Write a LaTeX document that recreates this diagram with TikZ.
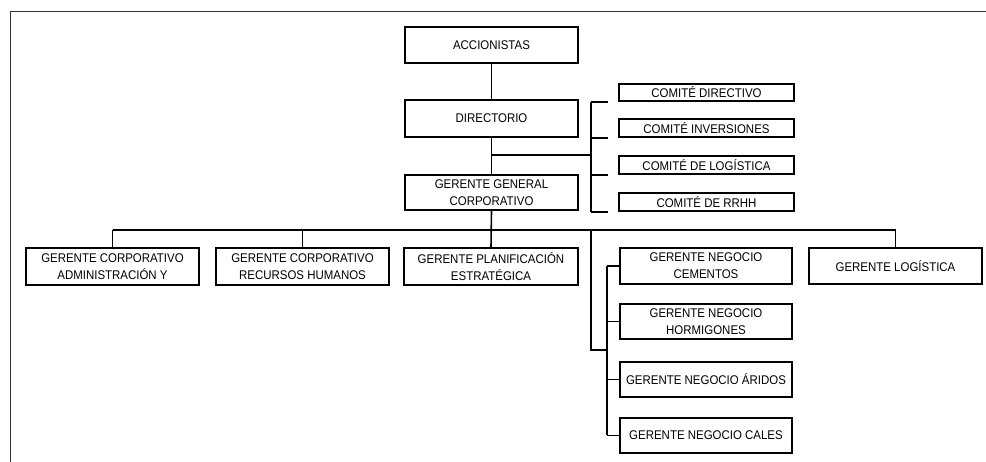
\documentclass[tikz,border=0pt]{standalone}
\usepackage{fontspec}
\setmainfont{Liberation Sans}[FakeStretch=0.91]
\begin{document}
\begin{tikzpicture}[x=1pt,y=-1pt,
  box/.style={draw,line width=1.6pt,inner sep=0pt,align=center,
    font=\fontsize{12.6}{16.8}\selectfont},
  wire/.style={line width=1.6pt},
  frame/.style={line width=1pt,draw=black!80}]
\useasboundingbox (0,0) rectangle (986,462);
\draw[frame] (10,462) -- (10,12) -- (986,12);
% top
\node[box,minimum width=173,minimum height=36] (acc) at (491.5,45) {ACCIONISTAS};
\node[box,minimum width=173,minimum height=37] (dir) at (491.5,118.5) {DIRECTORIO};
\node[box,minimum width=173,minimum height=35] (ggc) at (491.5,192.5) {GERENTE GENERAL\\CORPORATIVO};
% committees
\node[box,minimum width=175,minimum height=17] (c1) at (706.5,92.5) {COMITÉ DIRECTIVO};
\node[box,minimum width=175,minimum height=18] (c2) at (706.5,128) {COMITÉ INVERSIONES};
\node[box,minimum width=175,minimum height=18] (c3) at (706.5,165) {COMITÉ DE LOGÍSTICA};
\node[box,minimum width=175,minimum height=18] (c4) at (706.5,202) {COMITÉ DE RRHH};
% second row
\node[box,minimum width=173,minimum height=37] (g1) at (112.5,266.5) {GERENTE CORPORATIVO\\ADMINISTRACIÓN Y};
\node[box,minimum width=173,minimum height=37] (g2) at (302.5,266.5) {GERENTE CORPORATIVO\\RECURSOS HUMANOS};
\node[box,minimum width=174,minimum height=37] (g3) at (491,266.5) {GERENTE PLANIFICACIÓN\\ESTRATÉGICA};
\node[box,minimum width=173,minimum height=36] (glog) at (895.5,266) {GERENTE LOGÍSTICA};
\node[box,minimum width=172,minimum height=36] (n1) at (706,266) {GERENTE NEGOCIO\\CEMENTOS};
\node[box,minimum width=172,minimum height=35] (n2) at (706,321.5) {GERENTE NEGOCIO\\HORMIGONES};
\node[box,minimum width=172,minimum height=35] (n3) at (706,379.5) {GERENTE NEGOCIO ÁRIDOS};
\node[box,minimum width=172,minimum height=35] (n4) at (706,435.5) {GERENTE NEGOCIO CALES};
% coordinates
\coordinate (j1) at (491.5,155);
\coordinate (cb) at (591,155);
\coordinate (bus) at (491.5,230);
\coordinate (nb) at (591,230);
\coordinate (nl) at (591,350);
\coordinate (nv) at (607,350);
% top connectors
\draw[wire] (acc) -- (dir);
\draw[wire] (dir) -- (ggc);
\draw[wire] (j1) -- (cb);
\draw[wire] (cb |- c1.south) -- (cb |- c4.south);
\foreach \c in {c1,c2,c3,c4}
  \draw[wire] (cb |- \c.south) -- ([xshift=-10pt]\c.south west);
% main bus
\draw[wire] (ggc.south) -- (g3.north);
\draw[wire] (g1.north |- bus) -- (glog.north |- bus);
\draw[wire] (g1.north |- bus) -- (g1.north);
\draw[wire] (g2.north |- bus) -- (g2.north);
\draw[wire] (glog.north |- bus) -- (glog.north);
% negocio branch
\draw[wire] (nb) -- (nl) -- (nv);
\draw[wire] (nv |- n1.west) -- (nv |- n4.west);
\foreach \n in {n1,n2,n3,n4}
  \draw[wire] (nv |- \n.west) -- (\n.west);
\end{tikzpicture}
\end{document}
